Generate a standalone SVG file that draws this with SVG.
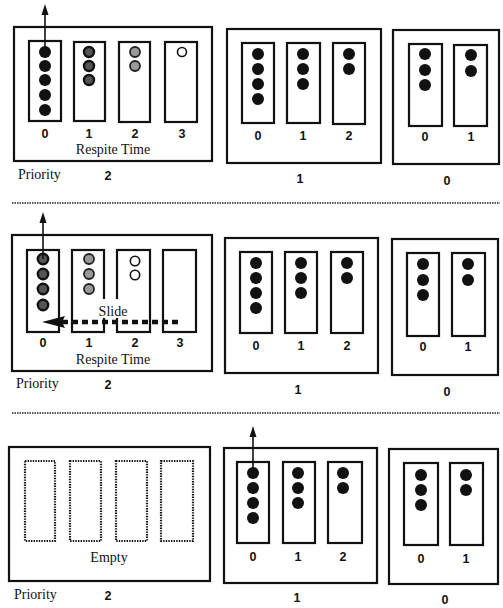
<svg xmlns="http://www.w3.org/2000/svg" width="503" height="608" viewBox="0 0 503 608">
<style>
.box{fill:none;stroke:#111;stroke-width:2.2}
.q{fill:#fff;stroke:#111;stroke-width:2.2}
.dq{fill:none;stroke:#111;stroke-width:2.2;stroke-dasharray:1.4 1.2}
.b{fill:#111}
.dk{fill:#555;stroke:#111;stroke-width:2.4}
.lt{fill:#999;stroke:#222;stroke-width:1.8}
.op{fill:#fff;stroke:#111;stroke-width:1.6}
.n{font-family:"Liberation Sans",Arial,sans-serif;font-weight:bold;font-size:12.5px;fill:#111;text-anchor:middle}
.s{font-family:"Liberation Serif","Times New Roman",serif;font-size:14px;fill:#111}
.sc{font-family:"Liberation Serif","Times New Roman",serif;font-size:14px;fill:#111;text-anchor:middle}
.sep{stroke:#222;stroke-width:1.5;stroke-dasharray:1.5 1}
.ar{stroke:#111;stroke-width:1.6;fill:none}
</style>

<!-- Row 1 -->
<g id="r1-p2">
<rect class="box" x="14" y="27" width="198" height="134"/>
<rect class="q" x="29" y="41" width="32" height="80"/>
<rect class="q" x="74" y="42" width="31" height="79"/>
<rect class="q" x="119" y="42" width="31" height="80"/>
<rect class="q" x="165" y="42" width="32" height="80"/>
<circle class="b" cx="45" cy="52" r="6"/><circle class="b" cx="45" cy="66" r="6"/><circle class="b" cx="45" cy="80" r="6"/><circle class="b" cx="45" cy="95" r="6"/><circle class="b" cx="45" cy="110" r="6"/>
<circle class="dk" cx="89" cy="52" r="5"/><circle class="dk" cx="89" cy="66" r="5"/><circle class="dk" cx="89" cy="80" r="5"/>
<circle class="lt" cx="135" cy="52" r="5"/><circle class="lt" cx="135" cy="66" r="5"/>
<circle class="op" cx="182" cy="52" r="4.5"/>
<text class="n" x="45" y="138">0</text><text class="n" x="89" y="138">1</text><text class="n" x="135" y="138">2</text><text class="n" x="182" y="138">3</text>
<text class="sc" x="113" y="154">Respite Time</text>
</g>
<g id="r1-p1">
<rect class="box" x="227" y="29" width="154" height="134"/>
<rect class="q" x="242" y="43" width="32" height="80"/>
<rect class="q" x="287" y="43" width="33" height="80"/>
<rect class="q" x="333" y="43" width="32" height="81"/>
<circle class="b" cx="258" cy="54" r="6"/><circle class="b" cx="258" cy="69" r="6"/><circle class="b" cx="258" cy="84" r="6"/><circle class="b" cx="258" cy="99" r="6"/>
<circle class="b" cx="303" cy="54" r="6"/><circle class="b" cx="303" cy="69" r="6"/><circle class="b" cx="303" cy="84" r="6"/>
<circle class="b" cx="349" cy="54" r="6"/><circle class="b" cx="349" cy="69" r="6"/>
<text class="n" x="258" y="140">0</text><text class="n" x="303" y="140">1</text><text class="n" x="349" y="140">2</text>
</g>
<g id="r1-p0">
<rect class="box" x="393" y="30" width="106" height="134"/>
<rect class="q" x="409" y="44" width="33" height="82"/>
<rect class="q" x="454" y="45" width="33" height="81"/>
<circle class="b" cx="425" cy="54" r="6"/><circle class="b" cx="425" cy="70" r="6"/><circle class="b" cx="425" cy="85" r="6"/>
<circle class="b" cx="471" cy="55" r="6"/><circle class="b" cx="471" cy="71" r="6"/>
<text class="n" x="425" y="141">0</text><text class="n" x="471" y="141">1</text>
</g>
<g id="r1-labels">
<text class="s" x="18" y="179">Priority</text>
<text class="n" x="108" y="180">2</text>
<text class="n" x="300" y="183">1</text>
<text class="n" x="447" y="185">0</text>
</g>
<line class="sep" x1="12" y1="203" x2="500" y2="203"/>

<!-- Row 2 -->
<g id="r2-p2">
<rect class="box" x="12" y="235" width="200" height="136"/>
<rect class="q" x="27" y="250" width="32" height="82"/>
<rect class="q" x="72" y="250" width="32" height="82"/>
<rect class="q" x="117" y="250" width="33" height="82"/>
<rect class="q" x="163" y="250" width="33" height="82"/>
<circle class="dk" cx="43" cy="259" r="5.2"/><circle class="dk" cx="43" cy="274" r="5.2"/><circle class="dk" cx="43" cy="289" r="5.2"/><circle class="dk" cx="43" cy="305" r="5.2"/>
<circle class="lt" cx="89" cy="259" r="5"/><circle class="lt" cx="89" cy="274" r="5"/><circle class="lt" cx="89" cy="289" r="5"/>
<circle class="op" cx="135" cy="261" r="4.7"/><circle class="op" cx="135" cy="275" r="4.7"/>
<rect x="98" y="299" width="30" height="19" fill="#fff"/>
<text class="s" x="113" y="316" text-anchor="middle" font-size="15px">Slide</text>
<text class="n" x="43" y="347">0</text><text class="n" x="89" y="347">1</text><text class="n" x="135" y="347">2</text><text class="n" x="180" y="347">3</text>
<text class="sc" x="113" y="364">Respite Time</text>
</g>
<g id="r2-p1">
<rect class="box" x="225" y="238" width="153" height="135"/>
<rect class="q" x="240" y="252" width="32" height="81"/>
<rect class="q" x="285" y="252" width="32" height="81"/>
<rect class="q" x="331" y="252" width="32" height="81"/>
<circle class="b" cx="256" cy="263" r="6"/><circle class="b" cx="256" cy="278" r="6"/><circle class="b" cx="256" cy="293" r="6"/><circle class="b" cx="256" cy="308" r="6"/>
<circle class="b" cx="301" cy="263" r="6"/><circle class="b" cx="301" cy="278" r="6"/><circle class="b" cx="301" cy="293" r="6"/>
<circle class="b" cx="347" cy="263" r="6"/><circle class="b" cx="347" cy="278" r="6"/>
<text class="n" x="256" y="350">0</text><text class="n" x="301" y="350">1</text><text class="n" x="347" y="350">2</text>
</g>
<g id="r2-p0">
<rect class="box" x="392" y="239" width="106" height="136"/>
<rect class="q" x="407" y="253" width="32" height="83"/>
<rect class="q" x="452" y="253" width="33" height="83"/>
<circle class="b" cx="423" cy="264" r="6"/><circle class="b" cx="423" cy="280" r="6"/><circle class="b" cx="423" cy="295" r="6"/>
<circle class="b" cx="468" cy="264" r="6"/><circle class="b" cx="468" cy="280" r="6"/>
<text class="n" x="423" y="351">0</text><text class="n" x="468" y="351">1</text>
</g>
<g id="r2-labels">
<text class="s" x="16" y="388">Priority</text>
<text class="n" x="108" y="389">2</text>
<text class="n" x="298" y="394">1</text>
<text class="n" x="447" y="396">0</text>
</g>
<line class="sep" x1="12" y1="413" x2="500" y2="413"/>

<!-- Row 3 -->
<g id="r3-p2">
<rect class="box" x="9" y="447" width="201" height="134"/>
<rect class="dq" x="25" y="461" width="30" height="80"/>
<rect class="dq" x="70" y="461" width="31" height="80"/>
<rect class="dq" x="116" y="461" width="31" height="80"/>
<rect class="dq" x="161" y="461" width="32" height="80"/>
<text class="sc" x="109" y="562">Empty</text>
</g>
<g id="r3-p1">
<rect class="box" x="224" y="448" width="153" height="135"/>
<rect class="q" x="237" y="462" width="32" height="81"/>
<rect class="q" x="283" y="462" width="32" height="81"/>
<rect class="q" x="328" y="462" width="34" height="81"/>
<circle class="b" cx="253" cy="473" r="6"/><circle class="b" cx="253" cy="488" r="6"/><circle class="b" cx="253" cy="503" r="6"/><circle class="b" cx="253" cy="518" r="6"/>
<circle class="b" cx="298" cy="473" r="6"/><circle class="b" cx="298" cy="488" r="6"/><circle class="b" cx="298" cy="503" r="6"/>
<circle class="b" cx="343" cy="473" r="6"/><circle class="b" cx="343" cy="488" r="6"/>
<text class="n" x="253" y="561">0</text><text class="n" x="298" y="561">1</text><text class="n" x="343" y="561">2</text>
</g>
<g id="r3-p0">
<rect class="box" x="389" y="449" width="109" height="135"/>
<rect class="q" x="404" y="463" width="34" height="82"/>
<rect class="q" x="450" y="463" width="33" height="82"/>
<circle class="b" cx="421" cy="475" r="6"/><circle class="b" cx="421" cy="490" r="6"/><circle class="b" cx="421" cy="505" r="6"/>
<circle class="b" cx="466" cy="475" r="6"/><circle class="b" cx="466" cy="490" r="6"/>
<text class="n" x="421" y="563">0</text><text class="n" x="466" y="563">1</text>
</g>
<g id="r3-labels">
<text class="s" x="14" y="599">Priority</text>
<text class="n" x="108" y="600">2</text>
<text class="n" x="297" y="602">1</text>
<text class="n" x="445" y="604">0</text>
</g>

<!-- Connectors -->
<g id="connectors">
<line class="ar" x1="45" y1="52" x2="45" y2="13"/>
<polygon class="b" points="45,4 41.5,15 48.5,15"/>
<line class="ar" x1="43" y1="259" x2="43" y2="221"/>
<polygon class="b" points="43,212 39.5,223 46.5,223"/>
<line class="ar" x1="253" y1="473" x2="253" y2="435"/>
<polygon class="b" points="253,426 249.5,437 256.5,437"/>
<line x1="62" y1="322" x2="180" y2="322" stroke="#111" stroke-width="4.5" stroke-dasharray="6 4"/>
<polygon class="b" points="42,322 65,316 62,322 65,328"/>
</g>
</svg>
